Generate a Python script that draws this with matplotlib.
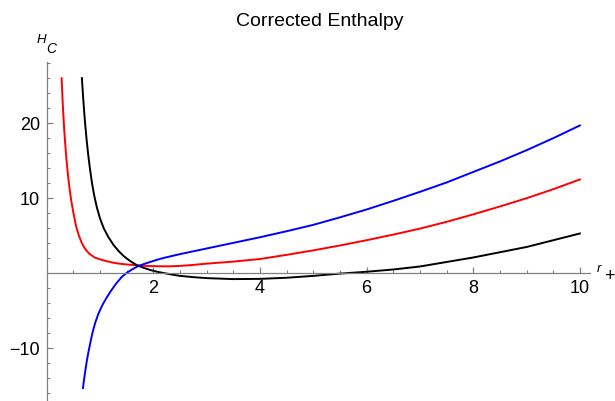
import numpy as np
import matplotlib
matplotlib.use("Agg")
import matplotlib.pyplot as plt
from matplotlib.ticker import FixedLocator

plt.rcParams["font.family"] = ["Liberation Sans", "DejaVu Sans"]

# values
red_x = [0.28, 0.29, 0.30, 0.31, 0.33, 0.35, 0.37, 0.40, 0.43, 0.46, 0.50, 0.55, 0.60,
         0.66, 0.72, 0.80, 0.90, 1.0, 1.1, 1.22, 1.34, 1.5, 1.66, 1.8, 1.94, 2.1, 2.3,
         2.5, 2.7, 3.0, 3.5, 4.0, 4.5, 5.0, 5.5, 6.0, 6.5, 7.0, 7.5, 8.0, 8.5, 9.0,
         9.5, 10.0]
red_y = [26.0, 24.3, 22.8, 21.4, 19.0, 17.0, 15.2, 13.0, 11.2, 9.7, 8.1, 6.3, 5.1,
         4.0, 3.25, 2.6, 2.1, 1.85, 1.65, 1.45, 1.3, 1.17, 1.08, 1.01, 0.96, 0.93,
         0.92, 0.98, 1.08, 1.28, 1.55, 1.9, 2.45, 3.05, 3.7, 4.4, 5.15, 5.95, 6.85,
         7.85, 8.9, 10.0, 11.2, 12.5]

black_x = [0.66, 0.68, 0.70, 0.72, 0.75, 0.78, 0.81, 0.85, 0.89, 0.94, 1.00, 1.07,
           1.15, 1.25, 1.35, 1.45, 1.57, 1.69, 1.82, 1.94, 2.07, 2.2, 2.35, 2.5, 2.75,
           3.0, 3.5, 4.0, 4.5, 5.0, 5.5, 6.0, 6.5, 7.0, 7.5, 8.0, 8.5, 9.0, 9.5, 10.0]
black_y = [26.0, 23.8, 21.8, 20.0, 17.7, 15.7, 14.0, 12.0, 10.4, 8.8, 7.3, 6.0, 4.9,
           3.8, 2.95, 2.25, 1.6, 1.08, 0.72, 0.44, 0.2, 0.02, -0.18, -0.35, -0.52,
           -0.65, -0.78, -0.75, -0.6, -0.35, -0.05, 0.2, 0.5, 0.9, 1.5, 2.1, 2.8,
           3.5, 4.4, 5.3]

blue_x = [0.68, 0.70, 0.72, 0.75, 0.78, 0.82, 0.86, 0.91, 0.97, 1.04, 1.12, 1.2, 1.3,
          1.4, 1.5, 1.6, 1.7, 1.82, 1.94, 2.07, 2.2, 2.35, 2.5, 3.0, 3.5, 4.0, 4.5,
          5.0, 5.5, 6.0, 6.5, 7.0, 7.5, 8.0, 8.5, 9.0, 9.5, 10.0]
blue_y = [-15.3, -14.2, -13.2, -11.8, -10.6, -9.2, -7.9, -6.6, -5.4, -4.3, -3.3,
          -2.4, -1.4, -0.55, 0.05, 0.5, 0.9, 1.22, 1.5, 1.8, 2.05, 2.3, 2.55, 3.3,
          4.05, 4.8, 5.6, 6.45, 7.45, 8.5, 9.65, 10.85, 12.1, 13.5, 14.9, 16.4,
          18.0, 19.7]

x_major = [2, 4, 6, 8, 10]
y_major = [-10, 10, 20]

fig = plt.figure(figsize=(6.15, 4.01), dpi=100)
ax = fig.add_axes([46.7 / 615, 0.0, (590 - 46.7) / 615, (401 - 61.7) / 401])

ax.plot(red_x, red_y, color="#ff0000", lw=1.4)
ax.plot(black_x, black_y, color="black", lw=1.4)
ax.plot(blue_x, blue_y, color="#0000ff", lw=1.4)

ax.set_xlim(0, 10.19)
ax.set_ylim(-17.03, 28.2)

for s in ["top", "right"]:
    ax.spines[s].set_visible(False)
for s in ["left", "bottom"]:
    ax.spines[s].set_position(("data", 0))
    ax.spines[s].set_color("#808080")
    ax.spines[s].set_linewidth(0.9)

ax.xaxis.set_major_locator(FixedLocator(x_major))
ax.yaxis.set_major_locator(FixedLocator(y_major))
ax.xaxis.set_minor_locator(FixedLocator([v for v in np.arange(0.5, 10.01, 0.5) if v not in x_major]))
ax.yaxis.set_minor_locator(FixedLocator([v for v in range(-16, 29, 2) if v not in y_major + [0]]))
ax.tick_params(which="both", direction="in", color="#808080", labelsize=13)
ax.tick_params(which="major", length=4, width=0.9, pad=5)
ax.tick_params(which="minor", length=2.3, width=0.8)

fig.text(319.5 / 615, 1 - 26 / 401, "Corrected Enthalpy", ha="center", va="baseline", fontsize=14)

# axis labels in Mathematica style
fig.text(37 / 615, 1 - 43 / 401, "H", fontsize=9.5, style="italic", va="baseline")
fig.text(46.5 / 615, 1 - 52.7 / 401, "C", fontsize=10, style="italic", va="baseline")
fig.text(597 / 615, 1 - 272 / 401, "r", fontsize=9.5, style="italic", va="baseline")
fig.text(604 / 615, 1 - 281 / 401, "+", fontsize=13, va="baseline")

fig.savefig("out.png", dpi=100)
